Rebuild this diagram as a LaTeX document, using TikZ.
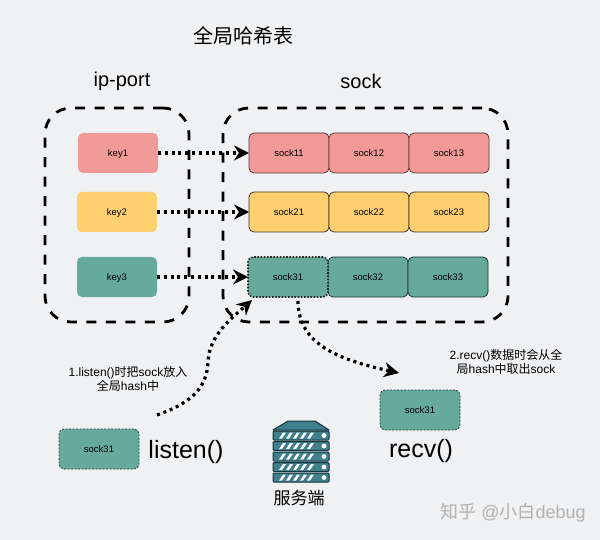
\documentclass[tikz,border=0pt]{standalone}
\usepackage{fontspec}
\setmainfont{Liberation Sans}
\newfontfamily\cjk{Noto Sans CJK SC}
\usepackage{xcolor}
\usepackage{tikz}
\usetikzlibrary{positioning,arrows.meta}
\definecolor{bgcol}{HTML}{F0F1F3}
\definecolor{redcol}{HTML}{F29A98}
\definecolor{yelcol}{HTML}{FFD070}
\definecolor{grncol}{HTML}{66AA9B}
\definecolor{srvcol}{HTML}{3F7F8E}
\definecolor{srvdark}{HTML}{12343D}
\newcommand{\zh}[1]{{\cjk #1}}

\begin{document}
\begin{tikzpicture}[
		x=1pt, y=-1pt,
		node distance = 0pt and 0pt,
		block/.style = {rectangle, minimum width=80pt, minimum height=40pt, rounded corners=5pt, align=center, inner sep=0pt, outer sep=0pt, text height=7pt, text depth=0pt, font=\fontsize{9.5}{12}\selectfont},
		keyred/.style = {block, fill=redcol},
		keyyel/.style = {block, fill=yelcol},
		keygrn/.style = {block, fill=grncol},
		sockred/.style = {keyred, draw=black!65!redcol, line width=0.8pt},
		sockyel/.style = {keyyel, draw=black!75!yelcol, line width=0.8pt},
		sockgrn/.style = {keygrn, draw=black!70!grncol, line width=0.8pt},
		sockdot/.style = {keygrn, draw=black!85, line width=1.6pt, dash pattern=on 1.6pt off 1.6pt},
		sockcopy/.style = {keygrn, draw=black!60!grncol, line width=0.8pt, dash pattern=on 2pt off 1.5pt},
		group/.style = {rectangle, draw=black, line width=2.8pt, dash pattern=on 10pt off 9.5pt, rounded corners=26pt, inner sep=0pt},
		line/.style = {draw=black, line width=3.2pt, dash pattern=on 3pt off 3.8pt, -{Stealth[length=15pt,width=15pt,inset=5pt]}},
		title/.style = {inner sep=0pt, font=\fontsize{20}{24}\selectfont},
		call/.style = {inner sep=0pt, font=\fontsize{25}{30}\selectfont},
		note/.style = {inner sep=0pt, align=center, font=\fontsize{12}{14}\selectfont}
	]
	\fill [bgcol] (0,0) rectangle (600,540);

	% Nodes
	\node [group, minimum width=144pt, minimum height=214pt] (ipgroup) at (117,215) {};
	\node [group, minimum width=285pt, minimum height=214pt] (sockgroup) at (365.5,215) {};

	\node [keyred] (key1) at (118,153) {key1};
	\node [keyyel] (key2) at (117,212) {key2};
	\node [keygrn] (key3) at (117,277) {key3};

	\node [sockred] (sock11) at (289,153) {sock11};
	\node [sockred, right=of sock11] (sock12) {sock12};
	\node [sockred, right=of sock12] (sock13) {sock13};
	\node [sockyel] (sock21) at (289,212) {sock21};
	\node [sockyel, right=of sock21] (sock22) {sock22};
	\node [sockyel, right=of sock22] (sock23) {sock23};
	\node [sockgrn] (sock32) at (368,277) {sock32};
	\node [sockgrn, right=of sock32] (sock33) {sock33};
	\node [sockdot, left=of sock32] (sock31) {sock31};

	\node [sockcopy] (sendsock) at (99,449) {sock31};
	\node [sockcopy] (recvsock) at (420,410) {sock31};

	\node [title] (hashtitle) at (243,36) {\zh{全局哈希表}};
	\node [title] (iptitle) at (122,81) {ip-port};
	\node [title] (socktitle) at (361,81) {sock};
	\node [call] (listencall) at (186,452) {listen()};
	\node [call] (recvcall) at (421,451) {recv()};
	\node [note] (listennote) at (128,379) {1.listen()\zh{时把}sock\zh{放入}\\\zh{全局}hash\zh{中}};
	\node [note] (recvnote) at (506,362) {2.recv()\zh{数据时会从全}\\\zh{局}hash\zh{中取出}sock};
	\node [inner sep=0pt, font=\fontsize{17}{20}\selectfont] (servername) at (299,498) {\zh{服务端}};
	\node [inner sep=0pt, text=black!30, font=\fontsize{18}{20}\selectfont] (mark) at (513,513) {\zh{知乎} @\zh{小白}debug};

	% Server icon
	\draw [fill=srvcol, draw=srvdark, line width=1pt, line join=round] (273,430) -- (288,421) -- (315,421) -- (329,430) -- cycle;
	\foreach \top in {431,441.5,452,462.5,473} {
		\draw [fill=srvcol, draw=srvdark, line width=1pt, rounded corners=1pt] (273,\top) rectangle (329,\top+9);
		\foreach \off in {0,7,14,21,28} {
			\fill [white] (279+\off,\top+7.5) -- (282+\off,\top+7.5) -- (286+\off,\top+1.5) -- (283+\off,\top+1.5) -- cycle;
		}
		\fill [white] (324,\top+4.5) circle (2.4pt);
	}

	% Lines
	\draw [line] (key1) -- (sock11);
	\draw [line] (key2) -- (sock21);
	\draw [line] (key3) -- (sock31);
	\coordinate (listenstart) at (157,415);
	\coordinate (recvstart) at (298,301);
	\coordinate (recvend) at (399,373);
	\draw [line] (listenstart) .. controls (195,402) and (207,385) .. (208,362) .. controls (209,335) and (232,318) .. (252,300);
	\draw [line] (recvstart) .. controls (298,345) and (340,360) .. (recvend);
\end{tikzpicture}
\end{document}
